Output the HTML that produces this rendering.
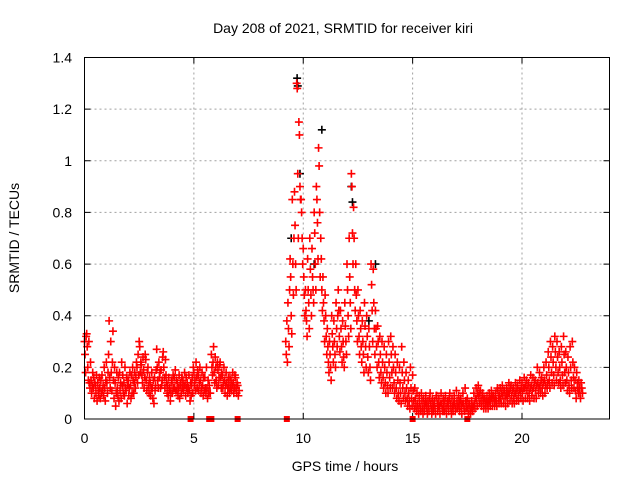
<!DOCTYPE html>
<html><head><meta charset="utf-8"><style>
html,body{margin:0;padding:0;background:#fff;}
svg{display:block;font-family:"Liberation Sans",sans-serif;}
</style></head><body>
<svg id="chart" width="640" height="480" viewBox="0 0 640 480" xmlns="http://www.w3.org/2000/svg">
<rect x="0" y="0" width="640" height="480" fill="#fff"/>
<text x="343" y="33" font-size="14" text-anchor="middle" fill="#000">Day 208 of 2021, SRMTID for receiver kiri</text>
<text x="345" y="471" font-size="14" text-anchor="middle" fill="#000">GPS time / hours</text>
<text x="19" y="238" font-size="14" text-anchor="middle" fill="#000" transform="rotate(-90 19 238)">SRMTID / TECUs</text>
<g id="grid"></g>
<g id="ticks"></g>
<g id="marks"></g>
<rect x="84.5" y="57.5" width="525" height="361.5" fill="none" stroke="#000" stroke-width="1"/>
</svg>
<script>
const xTicks = [0, 5, 10, 15, 20];
const yTicks = [0, 0.2, 0.4, 0.6, 0.8, 1, 1.2, 1.4];
const yTickLabels = ["0", "0.2", "0.4", "0.6", "0.8", "1", "1.2", "1.4"];
const binWidth = 0.1;
const startA = 0.0;
const valuesA = [
[.3,.25,.18,.32],[.33,.28,.2,.15],[.3,.14,.12,.22],[.15,.1,.13,.18],[.12,.16,.08,.14],
[.13,.1,.17,.07],[.14,.11,.09,.16],[.12,.08,.15,.1],[.17,.11,.13,.09],[.2,.12,.07,.15],
[.22,.14,.1,.18],[.25,.38,.16,.12],[.3,.18,.11,.22],[.34,.15,.08,.2],[.14,.05,.1,.18],
[.12,.09,.16,.07],[.18,.11,.14,.08],[.22,.13,.17,.1],[.14,.09,.2,.12],[.11,.16,.06,.13],
[.15,.09,.12,.18],[.13,.08,.17,.1],[.2,.15,.1,.14],[.18,.12,.16,.22],[.2,.14,.25,.17],
[.3,.28,.18,.22],[.21,.17,.14,.24],[.19,.12,.16,.25],[.23,.15,.11,.18],[.2,.13,.1,.16],
[.14,.09,.12,.18],[.12,.08,.15,.06],[.16,.11,.13,.19],[.27,.2,.15,.12],[.22,.16,.18,.12],
[.19,.13,.15,.24],[.26,.2,.16,.12],[.23,.17,.14,.1],[.13,.09,.16,.11],[.12,.07,.1,.15],
[.14,.1,.17,.12],[.16,.12,.19,.11],[.15,.11,.14,.09],[.12,.17,.08,.13],[.14,.1,.16,.12],
[.15,.11,.13,.18],[.13,.09,.16,.12],[.14,.1,.12,.17],[.11,.07,.14,.09],[.13,.16,.1,.2],
[.18,.13,.15,.11],[.22,.16,.12,.19],[.17,.11,.14,.2],[.15,.1,.12,.18],[.13,.09,.16,.11],
[.16,.12,.1,.2],[.12,.08,.15,.1],[.13,.1],[.25,.2,.17,.22],[.28,.18,.14,.24],
[.2,.15,.12,.22],[.19,.13,.16,.21],[.22,.16,.12,.18],[.17,.12,.14,.2],[.15,.1,.13,.18],
[.14,.09,.12,.16],[.13,.1,.16,.12],[.15,.11,.13,.18],[.14,.1,.12,.17],[.16,.12,.1,.14],
[.13,.09,.11]
];
const startB = 9.2;
const valuesB = [
[.3,.25,.38,.22],[.45,.35,.28,.5],[.62,.55,.4,.33],[.85,.6,.48,.7],[.88,.75,.6,.5],
[1.3,1.28,.95,.7],[1.15,1.1,.9,.85],[.85,.8,.7,.6],[.66,.55,.48,.4],[.5,.42,.38,.32],
[.62,.5,.45,.35],[.7,.58,.48,.4],[.66,.55,.5,.45],[.8,.72,.6,.5],[.9,.85,.76,.62],
[1.05,.98,.8,.55],[.7,.62,.5,.42],[.55,.45,.38,.3],[.48,.4,.32,.25],[.35,.28,.22,.18],
[.3,.25,.2,.15],[.4,.33,.28,.22],[.38,.3,.25,.2],[.45,.35,.28,.4],[.5,.42,.32,.26],
[.42,.35,.28,.22],[.38,.3,.24,.2],[.45,.36,.3,.25],[.6,.5,.4,.32],[.7,.55,.45,.35],
[.95,.9,.72,.6],[.82,.7,.5,.42],[.6,.48,.38,.3],[.5,.4,.32,.25],[.42,.35,.28,.22],
[.38,.3,.25,.18],[.45,.36,.28,.2],[.4,.32,.24,.18],[.35,.28,.2,.15],[.6,.52,.42,.3],
[.58,.45,.35,.25],[.42,.35,.28,.2],[.36,.3,.22,.16],[.32,.25,.18,.14],[.3,.22,.16,.12],
[.28,.2,.14,.1],[.25,.18,.13,.1],[.3,.22,.16,.12],[.32,.25,.18,.12],[.28,.2,.14,.1],
[.25,.18,.12,.08],[.22,.15,.1,.07],[.2,.14,.1,.06],[.28,.18,.12,.08],[.22,.15,.1,.07],
[.18,.12,.08,.05],[.15,.1,.07,.04],[.2,.12,.08,.05],[.17,.11,.07,.04],[.12,.08,.05,.03],
[.1,.06,.04,.02],[.09,.06,.04,.03],[.1,.07,.04,.02],[.08,.05,.03,.06],[.09,.06,.04,.02],
[.07,.05,.03,.08],[.1,.06,.04,.02],[.08,.05,.03,.06],[.07,.04,.02,.09],[.09,.06,.03,.05],
[.08,.05,.02,.06],[.1,.06,.04,.03],[.08,.05,.03,.07],[.09,.04,.02,.06],[.07,.05,.03,.08],
[.1,.06,.04,.02],[.08,.05,.03,.06],[.09,.06,.03,.04],[.11,.07,.04,.05],[.09,.06,.03,.07],
[.08,.05,.02,.06],[.1,.06,.04,.03],[.12,.07,.04,.05],[.08,.04,.02,.06],[.06,.03,.02,.04],
[.07,.04,.03,.05],[.1,.06,.04,.08],[.12,.08,.05,.1],[.13,.09,.06,.1],[.11,.07,.05,.09],
[.1,.07,.04,.08],[.08,.06,.04,.07],[.09,.06,.04,.07],[.1,.07,.05,.08],[.11,.08,.05,.09],
[.09,.07,.05,.08],[.1,.07,.05,.12],[.11,.08,.06,.09],[.12,.08,.06,.1],[.13,.09,.06,.11],
[.11,.08,.05,.09],[.12,.09,.06,.1],[.14,.1,.07,.12],[.13,.09,.06,.11],[.12,.08,.06,.1],
[.14,.1,.07,.12],[.13,.09,.07,.11],[.15,.11,.08,.12],[.14,.1,.07,.12],[.16,.12,.08,.13],
[.15,.11,.08,.13],[.14,.1,.07,.12],[.17,.13,.09,.11],[.16,.12,.08,.14],[.15,.11,.08,.13],
[.2,.14,.1,.12],[.18,.13,.1,.15],[.16,.12,.09,.14],[.2,.15,.1,.13],[.22,.17,.12,.14],
[.26,.2,.15,.12],[.3,.24,.18,.14],[.28,.22,.17,.13],[.32,.26,.2,.15],[.3,.24,.18,.14],
[.26,.2,.15,.12],[.28,.22,.17,.13],[.32,.25,.18,.14],[.26,.2,.15,.11],[.24,.18,.13,.1],
[.28,.2,.15,.12],[.3,.22,.16,.12],[.2,.15,.11,.08],[.18,.14,.12,.1],[.15,.12,.1,.08],
[.14,.12,.1]
];
const blackTimes = [9.72, 9.75, 9.85, 9.45, 10.5, 10.85, 12.2, 12.25, 13.3, 13.0];
const blackValues = [1.32, 1.29, 0.95, 0.7, 0.6, 1.12, 0.9, 0.84, 0.6, 0.38];
const squareTimes = [4.85, 5.7, 5.8, 7.0, 9.25, 15.0, 17.5];

const X0 = 84.5, X1 = 609.5, Y0 = 419, Y1 = 57.5;
const xMin = 0, xMax = 24, yMin = 0, yMax = 1.4;
const xs = t => X0 + (t - xMin) / (xMax - xMin) * (X1 - X0);
const ys = v => Y0 - (v - yMin) / (yMax - yMin) * (Y0 - Y1);
const NS = "http://www.w3.org/2000/svg";
const grid = document.getElementById('grid');
const ticks = document.getElementById('ticks');
const marks = document.getElementById('marks');
function mk(tag, attrs, parent) {
  const e = document.createElementNS(NS, tag);
  for (const k in attrs) e.setAttribute(k, attrs[k]);
  parent.appendChild(e);
  return e;
}
xTicks.forEach(t => {
  const x = xs(t);
  if (t !== xMin) {
    const g = mk('line', {x1: x, x2: x, y1: Y1, y2: Y0, stroke: '#a0a0a0', 'stroke-dasharray': '2,3'}, grid);
    
    
  }
  const tk = mk('path', {d: `M${x},${Y0}v-6M${x},${Y1}v6`, stroke: '#000'}, ticks);
  
  
  const lb = mk('text', {x: x, y: 443, 'font-size': 14, 'text-anchor': 'middle'}, ticks);
  lb.textContent = String(t);
  
  
});
yTicks.forEach((v, i) => {
  const y = ys(v);
  if (v !== yMin && v !== yMax) {
    const g = mk('line', {x1: X0, x2: X1, y1: y, y2: y, stroke: '#a0a0a0', 'stroke-dasharray': '2,3'}, grid);
    
    
  }
  const tk = mk('path', {d: `M${X0},${y}h6M${X1},${y}h-6`, stroke: '#000'}, ticks);
  
  
  const lb = mk('text', {x: 72, y: y + 5, 'font-size': 14, 'text-anchor': 'end'}, ticks);
  lb.textContent = yTickLabels[i];
  
  
});
function plus(t, v, color) {
  const x = xs(t), y = ys(v);
  const p = mk('path', {d: `M${x-4},${y}h8M${x},${y-4}v8`, stroke: color, 'stroke-width': 1.6}, marks);
  
  
}
blackTimes.forEach((t, i) => plus(t, blackValues[i], '#000'));
function drawSeg(start, vals) {
  vals.forEach((bin, i) => {
    bin.forEach((v, j) => {
      const t = start + i * binWidth + j * binWidth / bin.length;
      plus(t, v, '#ff0000');
    });
  });
}
drawSeg(startA, valuesA);
drawSeg(startB, valuesB);
squareTimes.forEach(t => {
  const s = mk('rect', {x: xs(t) - 3, y: Y0 - 3, width: 6, height: 6, fill: '#ff0000'}, marks);
  
  
});
</script>
</body></html>
